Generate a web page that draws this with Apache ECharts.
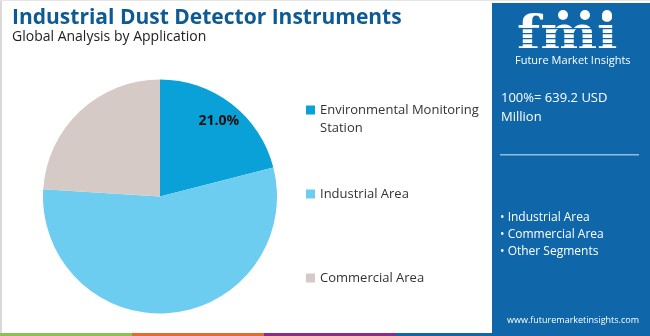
<!DOCTYPE html>
<html>
<head>
<meta charset="utf-8">
<script src="https://cdn.jsdelivr.net/npm/echarts@6/dist/echarts.min.js"></script>
<style>
html,body{margin:0;padding:0;background:#fff;}
#c{width:650px;height:336px;}
</style>
</head>
<body>
<div id="c"></div>
<script>
const categories = ['Environmental Monitoring Station', 'Industrial Area', 'Commercial Area'];
const shares = [21.0, 55.0, 24.0];
const sliceColors = ['#0aa0d8', '#6dcdf1', '#d5cac6'];
const shownLabels = ['21.0%', '', ''];
const panelTotal = ['100%= 639.2 USD', 'Million'];
const panelSegments = ['• Industrial Area', '• Commercial Area', '• Other Segments'];

const FONT = 'Open Sans';
const PANEL = '#0f67aa';

const chart = echarts.init(document.getElementById('c'), null, {renderer: 'canvas'});

const data = categories.map((n, i) => ({name: n, value: shares[i], itemStyle: {color: sliceColors[i]}}));
const labelData = categories.map((n, i) => ({
  name: n, value: shares[i],
  itemStyle: {color: 'rgba(0,0,0,0)'},
  label: {show: !!shownLabels[i], formatter: shownLabels[i]}
}));

function legendFor(i, top) {
  return {
    orient: 'vertical', left: 301, top: top,
    data: [categories[i]],
    icon: 'rect', itemWidth: 9, itemHeight: 9, itemGap: 0,
    selectedMode: false,
    formatter: n => n === categories[0] ? ' \nEnvironmental Monitoring\nStation' : n,
    textStyle: {fontFamily: FONT, fontSize: 13, color: '#333', lineHeight: 18}
  };
}

const stripeColors = ['#8cc152', '#e8692d', '#8b2d87', PANEL];

const option = {
  backgroundColor: '#fff',
  animation: false,
  title: [
    {text: 'Industrial Dust Detector Instruments', left: 12, top: 8, padding: 0,
     textStyle: {fontFamily: FONT, fontWeight: 'bold', fontSize: 21, color: '#0d5a94'}},
    {text: 'Global Analysis by Application', left: 12, top: 30, padding: 0,
     textStyle: {fontFamily: FONT, fontWeight: 'normal', fontSize: 14, color: '#222'}}
  ],
  legend: [legendFor(0, 78), legendFor(1, 180), legendFor(2, 264)],
  series: [
    {
      type: 'pie', center: [160, 196.5], radius: [0, 117], startAngle: 90, clockwise: true,
      silent: true, label: {show: false}, labelLine: {show: false}, data: data
    },
    {
      type: 'pie', center: [160, 196.5], radius: [69, 117], startAngle: 90, clockwise: true,
      silent: true,
      label: {position: 'inside', fontFamily: FONT, fontWeight: 'bold', fontSize: 14, color: '#111'},
      labelLine: {show: false}, data: labelData
    }
  ],
  graphic: [
    {type: 'rect', shape: {x: 0, y: 0, width: 2, height: 336}, style: {fill: '#d9d9d9'}, z: 10},
    {type: 'rect', shape: {x: 0, y: 0, width: 650, height: 1}, style: {fill: '#e6e6e6'}, z: 10},
    {type: 'rect', shape: {x: 492, y: 3, width: 158, height: 333}, style: {fill: PANEL}, z: 10},
    // logo
    {type: 'circle', shape: {cx: 563, cy: 15, r: 5}, style: {fill: '#fff'}, z: 11},
    {type: 'circle', shape: {cx: 585, cy: 15, r: 5}, style: {fill: '#fff'}, z: 11},
    {type: 'circle', shape: {cx: 607, cy: 15, r: 5}, style: {fill: '#fff'}, z: 11},
    {type: 'text', x: 517, y: 14, scaleX: 1.17, z: 11,
     style: {text: 'fmi', fill: '#fff', font: 'bold 46px "DejaVu Serif"'}},
    {type: 'group', z: 12, children: [28, 33, 38, 43, 48].map(y => ({
      type: 'rect', shape: {x: 512, y: y, width: 115, height: 1.2}, style: {fill: PANEL}, z: 12
    }))},
    {type: 'text', left: 515, top: 55, z: 11,
     style: {text: 'Future Market Insights', fill: '#fff', font: '11px "Open Sans"'}},
    // total
    {type: 'text', left: 501, top: 89, z: 11,
     style: {text: panelTotal.join('\n'), fill: '#fff', font: '13px "Open Sans"', lineHeight: 19}},
    {type: 'rect', shape: {x: 500, y: 154, width: 139, height: 1.5}, style: {fill: '#8fbde0'}, z: 11},
    {type: 'text', left: 500, top: 209, z: 11,
     style: {text: panelSegments.join('\n'), fill: '#fff', font: '12px "Open Sans"', lineHeight: 17}},
    {type: 'text', left: 507, top: 316, z: 11,
     style: {text: 'www.futuremarketinsights.com', fill: '#fff', font: '9px "Open Sans"'}},
    // bottom stripe
    ...stripeColors.map((c, i) => ({
      type: 'rect', z: 13,
      shape: {x: i * 132, y: 333, width: i === 3 ? 254 : 132, height: 3},
      style: {fill: c}
    }))
  ]
};
chart.setOption(option);
</script>
</body>
</html>
